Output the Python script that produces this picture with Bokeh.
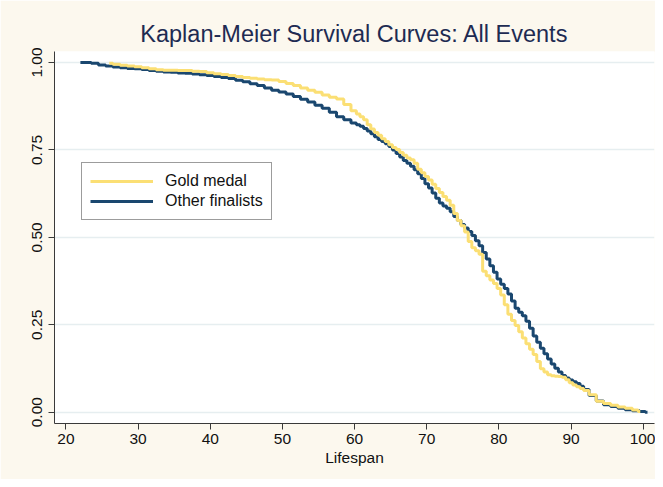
from bokeh.plotting import figure
from bokeh.models import Legend, LegendItem, FixedTicker, PrintfTickFormatter
from bokeh.embed import file_html
from bokeh.resources import INLINE

title_text = "Kaplan-Meier Survival Curves: All Events"
x_label = "Lifespan"
x_ticks = [20, 30, 40, 50, 60, 70, 80, 90, 100]
y_ticks = [0.0, 0.25, 0.5, 0.75, 1.0]
series_names = ["Gold medal", "Other finalists"]

gold_age = [26, 27, 28, 29, 30, 31, 32, 33, 34, 35, 36, 37, 38, 39, 40,
            41, 42, 43, 44, 45, 46, 47, 48, 49, 50, 51, 52, 53, 54, 55,
            56, 57, 58, 59,
            60, 60.5, 61, 61.5, 62, 62.5, 63, 63.5, 64, 64.5, 65, 65.5,
            66, 66.5, 67, 67.5, 68, 68.5, 69, 69.5, 70, 70.5, 71, 71.5,
            72, 72.5, 73, 73.5, 74, 74.5, 75, 75.5, 76, 76.5, 77, 77.5,
            78, 78.5, 79, 79.5, 80, 80.5, 81, 81.5, 82, 82.5, 83, 83.5,
            84, 84.5, 85, 85.5, 86, 86.5, 87, 87.5, 88, 88.5, 89, 89.5,
            90, 90.5, 91, 91.5, 92,
            93, 94, 95, 96, 97, 98, 99, 99.6]
gold_surv = [0.998, 0.995, 0.992, 0.990, 0.988, 0.985, 0.982, 0.979, 0.978, 0.978,
             0.977, 0.977, 0.975, 0.974, 0.971, 0.968, 0.966, 0.963, 0.960, 0.957,
             0.955, 0.953, 0.951, 0.950, 0.946, 0.940, 0.934, 0.927, 0.921, 0.915,
             0.907, 0.901, 0.896, 0.880,
             0.862, 0.853, 0.845, 0.836, 0.822, 0.810, 0.800, 0.792, 0.782, 0.774, 0.765, 0.757,
             0.751, 0.743, 0.735, 0.727, 0.722, 0.712, 0.695, 0.685, 0.674, 0.664, 0.652, 0.640,
             0.628, 0.617, 0.606, 0.592, 0.568, 0.548, 0.533, 0.515, 0.488, 0.470, 0.462, 0.452,
             0.403, 0.390, 0.378, 0.368, 0.354, 0.335, 0.307, 0.280, 0.262, 0.248, 0.230, 0.212,
             0.196, 0.180, 0.165, 0.145, 0.124, 0.115, 0.107, 0.104, 0.103, 0.102, 0.100, 0.093,
             0.084, 0.078, 0.073, 0.068, 0.062,
             0.050, 0.031, 0.025, 0.020, 0.015, 0.011, 0.006, 0.002]

other_age = [22, 23, 24, 25, 26, 27, 28, 29, 30, 31, 32, 33, 34, 35, 36,
             37, 38, 39, 40, 41, 42, 43, 44, 45, 46, 47, 48, 49, 50, 51,
             52, 53, 54, 55, 56, 57, 58, 59,
             60, 60.5, 61, 61.5, 62, 62.5, 63, 63.5, 64, 64.5, 65, 65.5,
             66, 66.5, 67, 67.5, 68, 68.5, 69, 69.5, 70, 70.5, 71, 71.5,
             72, 72.5, 73, 73.5, 74, 74.5, 75, 75.5, 76, 76.5, 77, 77.5,
             78, 78.5, 79, 79.5, 80, 80.5, 81, 81.5, 82, 82.5, 83, 83.5,
             84, 84.5, 85, 85.5, 86, 86.5, 87, 87.5, 88, 88.5, 89, 89.5,
             90, 90.5, 91, 91.5, 92,
             93, 94, 95, 96, 97, 98, 99, 100, 100.6]
other_surv = [1.000, 1.000, 0.998, 0.993, 0.990, 0.987, 0.985, 0.983, 0.982, 0.980,
              0.977, 0.975, 0.973, 0.972, 0.970, 0.969, 0.967, 0.965, 0.963, 0.960,
              0.957, 0.954, 0.949, 0.945, 0.939, 0.934, 0.927, 0.921, 0.916, 0.910,
              0.903, 0.895, 0.887, 0.878, 0.869, 0.858, 0.845, 0.836,
              0.827, 0.822, 0.818, 0.811, 0.804, 0.796, 0.788, 0.780, 0.774, 0.768, 0.760, 0.750,
              0.740, 0.730, 0.720, 0.712, 0.703, 0.693, 0.682, 0.668, 0.653, 0.641, 0.627, 0.612,
              0.598, 0.590, 0.583, 0.573, 0.560, 0.548, 0.537, 0.527, 0.517, 0.505, 0.490, 0.476,
              0.457, 0.438, 0.419, 0.400, 0.381, 0.366, 0.354, 0.338, 0.318, 0.297, 0.286, 0.276,
              0.260, 0.240, 0.218, 0.200, 0.183, 0.167, 0.152, 0.138, 0.126, 0.115, 0.105, 0.098,
              0.092, 0.087, 0.082, 0.074, 0.065,
              0.048, 0.032, 0.021, 0.016, 0.011, 0.007, 0.004, 0.002, 0.000]

FONT = "Liberation Sans"
GOLD = "#FBDF74"
NAVY = "#1A476F"

p = figure(frame_width=600, frame_height=372,
           min_border_left=54, min_border_right=1,
           min_border_top=51, min_border_bottom=56,
           x_range=(18.41, 101.57), y_range=(-0.0323, 1.0315),
           output_backend="svg", toolbar_location=None,
           background_fill_color="white", border_fill_color="#FCF8EE")
p.outline_line_color = None

p.title.text = title_text
p.title.align = "center"
p.title.text_font = FONT
p.title.text_font_size = "23.5px"
p.title.text_font_style = "normal"
p.title.text_color = "#1E2B52"

p.xgrid.visible = False
p.ygrid.grid_line_color = "#E6EEF0"
p.ygrid.grid_line_width = 1.5
p.ygrid.ticker = FixedTicker(ticks=y_ticks)

p.xaxis.ticker = FixedTicker(ticks=x_ticks)
p.yaxis.ticker = FixedTicker(ticks=y_ticks)
p.yaxis.formatter = PrintfTickFormatter(format="%.2f")
p.yaxis.major_label_orientation = "vertical"
p.xaxis.axis_label = x_label

for ax in (p.xaxis, p.yaxis):
    ax.axis_line_color = "#3A3A3A"
    ax.major_tick_line_color = "#3A3A3A"
    ax.minor_tick_line_color = None
    ax.major_tick_out = 6
    ax.major_tick_in = 0
    ax.major_label_text_font = FONT
    ax.major_label_text_font_size = "15.5px"
    ax.major_label_text_color = "#111111"
    ax.axis_label_text_font = FONT
    ax.axis_label_text_font_size = "15.5px"
    ax.axis_label_text_font_style = "normal"
    ax.axis_label_text_color = "#111111"
p.xaxis.major_label_standoff = 4
p.xaxis.axis_label_standoff = 2
p.yaxis.major_label_standoff = 6

r_other = p.step(other_age, other_surv, mode="center", line_color=NAVY, line_width=3)
r_gold = p.step(gold_age, gold_surv, mode="center", line_color=GOLD, line_width=3)

legend = Legend(items=[LegendItem(label=series_names[0], renderers=[r_gold]),
                       LegendItem(label=series_names[1], renderers=[r_other])],
                location=(27, 203))
legend.glyph_width = 63
legend.glyph_height = 20
legend.label_height = 20
legend.label_standoff = 12
legend.padding = 8
legend.spacing = 0
legend.margin = 0
legend.label_text_font = FONT
legend.label_text_font_size = "16px"
legend.label_text_color = "#111111"
legend.border_line_color = "#3A3A3A"
legend.border_line_width = 1
legend.background_fill_color = "white"
legend.background_fill_alpha = 1
p.add_layout(legend)

open("out.html", "w").write(file_html(p, INLINE))
